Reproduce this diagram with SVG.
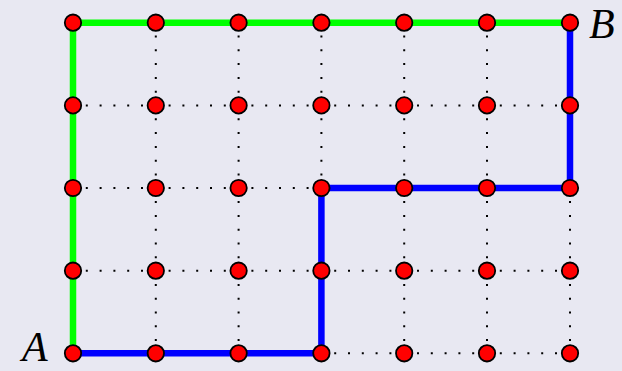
<svg xmlns="http://www.w3.org/2000/svg" width="622" height="371" viewBox="0 0 622 371">
<style>
.grid{stroke:#000;stroke-width:2;stroke-dasharray:2 11.8;stroke-dashoffset:1;fill:none}
.path{fill:none;stroke-width:6.5;stroke-linejoin:miter;stroke-linecap:butt}
.node{fill:#ff0000;stroke:#000;stroke-width:1.8}
.lbl{font-family:"Liberation Serif",serif;font-style:italic;font-size:42px;fill:#000}
</style>
<rect width="622" height="371" fill="#e8e8f2"/>
<g id="connectors">
<g id="grid-lines">
<path class="grid" d="M73 22.7H570M73 105.4H570M73 188H570M73 270.7H570M73 353.3H570"/>
<path class="grid" d="M73 22.7V353.3M155.8 22.7V353.3M238.6 22.7V353.3M321.4 22.7V353.3M404.2 22.7V353.3M487 22.7V353.3M570 22.7V353.3"/>
</g>
<path id="green-path" class="path" stroke="#00ff00" d="M73 353.3V22.7H570"/>
<path id="blue-path" class="path" stroke="#0000ff" d="M73 353.3H321.4V188H570V22.7"/>
</g>
<g id="nodes">
<g id="row0"><circle class="node" cx="73" cy="22.7" r="8.2"/><circle class="node" cx="155.8" cy="22.7" r="8.2"/><circle class="node" cx="238.6" cy="22.7" r="8.2"/><circle class="node" cx="321.4" cy="22.7" r="8.2"/><circle class="node" cx="404.2" cy="22.7" r="8.2"/><circle class="node" cx="487" cy="22.7" r="8.2"/><circle class="node" cx="570" cy="22.7" r="8.2"/></g>
<g id="row1"><circle class="node" cx="73" cy="105.4" r="8.2"/><circle class="node" cx="155.8" cy="105.4" r="8.2"/><circle class="node" cx="238.6" cy="105.4" r="8.2"/><circle class="node" cx="321.4" cy="105.4" r="8.2"/><circle class="node" cx="404.2" cy="105.4" r="8.2"/><circle class="node" cx="487" cy="105.4" r="8.2"/><circle class="node" cx="570" cy="105.4" r="8.2"/></g>
<g id="row2"><circle class="node" cx="73" cy="188" r="8.2"/><circle class="node" cx="155.8" cy="188" r="8.2"/><circle class="node" cx="238.6" cy="188" r="8.2"/><circle class="node" cx="321.4" cy="188" r="8.2"/><circle class="node" cx="404.2" cy="188" r="8.2"/><circle class="node" cx="487" cy="188" r="8.2"/><circle class="node" cx="570" cy="188" r="8.2"/></g>
<g id="row3"><circle class="node" cx="73" cy="270.7" r="8.2"/><circle class="node" cx="155.8" cy="270.7" r="8.2"/><circle class="node" cx="238.6" cy="270.7" r="8.2"/><circle class="node" cx="321.4" cy="270.7" r="8.2"/><circle class="node" cx="404.2" cy="270.7" r="8.2"/><circle class="node" cx="487" cy="270.7" r="8.2"/><circle class="node" cx="570" cy="270.7" r="8.2"/></g>
<g id="row4"><circle class="node" cx="73" cy="353.3" r="8.2"/><circle class="node" cx="155.8" cy="353.3" r="8.2"/><circle class="node" cx="238.6" cy="353.3" r="8.2"/><circle class="node" cx="321.4" cy="353.3" r="8.2"/><circle class="node" cx="404.2" cy="353.3" r="8.2"/><circle class="node" cx="487" cy="353.3" r="8.2"/><circle class="node" cx="570" cy="353.3" r="8.2"/></g>
<g id="label-A"><text class="lbl" x="22" y="361">A</text></g>
<g id="label-B"><text class="lbl" x="589" y="38">B</text></g>
</g>
</svg>
